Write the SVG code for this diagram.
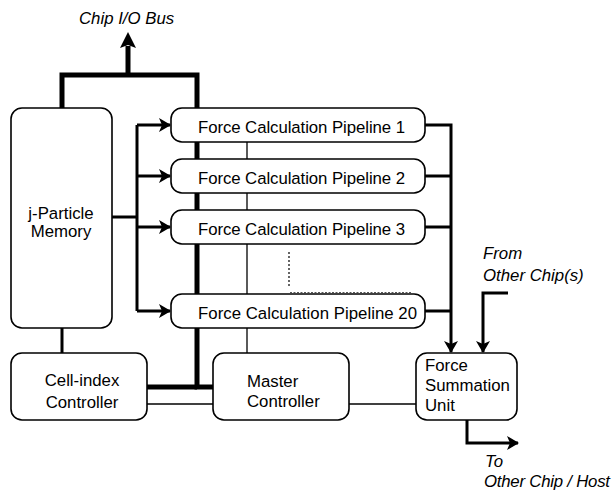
<svg xmlns="http://www.w3.org/2000/svg" width="615" height="492" viewBox="0 0 615 492">
<style>
.box{fill:#fff;stroke:#000;stroke-width:1.6}
.t{font-family:"Liberation Sans",Arial,sans-serif;font-size:16.8px;fill:#000}
.i{font-style:italic}
.bus{fill:none;stroke:#000;stroke-width:5;stroke-linejoin:miter}
.th{fill:none;stroke:#000;stroke-width:3;stroke-linejoin:miter}
.tn{fill:none;stroke:#000;stroke-width:1.3}
</style>
<defs>
<marker id="ah" markerWidth="12" markerHeight="14" viewBox="0 0 12 14" refX="11" refY="7" orient="auto" markerUnits="userSpaceOnUse">
<path d="M0,0 L12,7 L0,14 L3,7 Z" fill="#000"/>
</marker>
<marker id="ahb" markerWidth="16" markerHeight="16" viewBox="0 0 16 16" refX="2" refY="8" orient="auto" markerUnits="userSpaceOnUse">
<path d="M0,0 L16,8 L0,16 L3,8 Z" fill="#000"/>
</marker>
</defs>
<g id="connectors">
<path class="bus" d="M62,108 V75 H197 V387 H213"/>
<path class="bus" d="M128,75 V46" marker-end="url(#ahb)"/>
<path class="bus" d="M147,387 H197"/>
<path class="tn" d="M147,404 H213"/>
<path class="th" d="M62,328 V353"/>
<path class="th" d="M112,217 H137"/>
<path class="th" d="M137,125 V311"/>
<path class="th" d="M137,125 H170" marker-end="url(#ah)"/>
<path class="th" d="M137,176 H170" marker-end="url(#ah)"/>
<path class="th" d="M137,227 H170" marker-end="url(#ah)"/>
<path class="th" d="M137,311 H170" marker-end="url(#ah)"/>
<path class="tn" d="M247,142 V353"/>
<path class="th" d="M425,125 H451 V352" marker-end="url(#ah)"/>
<path class="th" d="M425,176 H451"/>
<path class="th" d="M425,227 H451"/>
<path class="th" d="M425,311 H451"/>
<path class="th" d="M508,293 H483 V352" marker-end="url(#ah)"/>
<path class="tn" d="M349,404 H416"/>
<path class="th" d="M467,420 V443 H518" marker-end="url(#ah)"/>
<path d="M289,252 V286" stroke="#000" stroke-width="1.2" stroke-dasharray="2,2" fill="none"/>
<path d="M290,292.5 H412" stroke="#555" stroke-width="1" stroke-dasharray="2,1.5" fill="none"/>
</g>
<g id="memory">
<rect class="box" x="11" y="108" width="101" height="220" rx="11"/>
<text class="t" x="61" y="219" text-anchor="middle">j-Particle</text>
<text class="t" x="61" y="237" text-anchor="middle">Memory</text>
</g>
<g id="pipe1">
<rect class="box" x="171" y="108" width="254" height="34" rx="11"/>
<text class="t" x="198" y="133" textLength="207">Force Calculation Pipeline 1</text>
</g>
<g id="pipe2">
<rect class="box" x="171" y="159" width="254" height="34" rx="11"/>
<text class="t" x="198" y="184" textLength="207">Force Calculation Pipeline 2</text>
</g>
<g id="pipe3">
<rect class="box" x="171" y="210" width="254" height="34" rx="11"/>
<text class="t" x="198" y="235" textLength="207">Force Calculation Pipeline 3</text>
</g>
<g id="pipe20">
<rect class="box" x="171" y="294" width="254" height="34" rx="11"/>
<text class="t" x="198" y="319" textLength="219">Force Calculation Pipeline 20</text>
</g>
<g id="cellindex">
<rect class="box" x="11" y="353" width="136" height="67" rx="11"/>
<text class="t" x="82" y="386" text-anchor="middle">Cell-index</text>
<text class="t" x="82" y="408" text-anchor="middle">Controller</text>
</g>
<g id="master">
<rect class="box" x="213" y="353" width="136" height="67" rx="11"/>
<text class="t" x="247" y="387">Master</text>
<text class="t" x="247" y="407">Controller</text>
</g>
<g id="summation">
<rect class="box" x="416" y="353" width="101" height="67" rx="11"/>
<text class="t" x="425" y="371">Force</text>
<text class="t" x="425" y="391">Summation</text>
<text class="t" x="425" y="411">Unit</text>
</g>
<g id="labels">
<text class="t i" x="79" y="24">Chip I/O Bus</text>
<text class="t i" x="483" y="259">From</text>
<text class="t i" x="483" y="281">Other Chip(s)</text>
<text class="t i" x="485" y="467">To</text>
<text class="t i" x="484" y="487" textLength="126">Other Chip / Host</text>
</g>
</svg>
